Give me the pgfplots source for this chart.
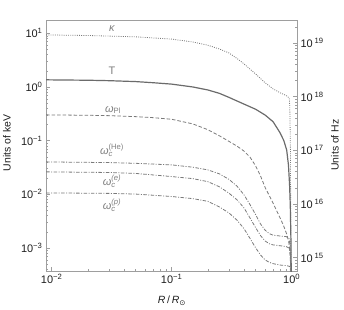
\documentclass[border=0pt]{standalone}
\usepackage{fontspec}
\setmainfont{Liberation Sans}
\newfontfamily\dejavu{DejaVu Sans}
\usepackage{amsmath}
\usepackage{pgfplots}
\pgfplotsset{compat=1.18}
\definecolor{framec}{gray}{0.62}
\definecolor{curvec}{gray}{0.48}
\definecolor{tc}{gray}{0.42}
\definecolor{labc}{gray}{0.5}
\definecolor{tickc}{gray}{0.12}

\pgfplotstableread{
x y
0.009 9.35
0.01 9.3
0.02 9.1
0.05 8.6
0.1 7.8
0.15 6.9
0.2 6.0
0.25 5.1
0.3 4.3
0.35 3.4
0.4 2.7
0.5 1.75
0.6 1.2
0.7 0.92
0.8 0.78
0.88 0.71
0.93 0.66
0.955 0.6
0.963 0.45
0.968 0.25
0.975 0.08
0.98 0.01
0.985 0.0005
0.99 0.00001
}\kappatab

\pgfplotstableread{
x y
0.009 1.36
0.01 1.355
0.02 1.335
0.03 1.31
0.05 1.26
0.07 1.2
0.1 1.13
0.15 1.0
0.2 0.88
0.25 0.76
0.3 0.64
0.4 0.48
0.5 0.385
0.6 0.3
0.7 0.225
0.8 0.14
0.86 0.1
0.908 0.067
0.94 0.035
0.96 0.015
0.973 0.0064
0.985 0.0015
0.992 0.0003
0.995 0.00001
}\Ttab

\pgfplotstableread{
x y
0.009 0.302
0.01 0.301
0.02 0.297
0.03 0.292
0.05 0.28
0.07 0.268
0.1 0.25
0.15 0.205
0.2 0.16
0.25 0.123
0.3 0.097
0.35 0.079
0.4 0.064
0.45 0.049
0.5 0.034
0.55 0.022
0.6 0.0135
0.7 0.0068
0.78 0.0041
0.85 0.0027
0.914 0.00175
0.95 0.0012
0.968 0.0008
0.98 0.0004
0.99 0.0001
0.995 0.00001
}\pltab

\pgfplotstableread{
x y
0.009 0.0402
0.01 0.0400
0.03 0.0390
0.05 0.0378
0.1 0.0353
0.15 0.0320
0.2 0.0285
0.25 0.0240
0.3 0.0190
0.35 0.0142
0.4 0.0098
0.45 0.0064
0.5 0.0042
0.55 0.0028
0.6 0.00215
0.65 0.00185
0.7 0.00173
0.8 0.00167
0.9 0.00163
0.95 0.0015
0.97 0.0011
0.98 0.0006
0.99 0.0001
0.995 0.00001
}\hetab

\pgfplotstableread{
x y
0.009 0.0262
0.01 0.0261
0.03 0.0255
0.05 0.0245
0.1 0.0214
0.15 0.0196
0.2 0.0172
0.25 0.0138
0.3 0.0105
0.35 0.0079
0.4 0.0056
0.45 0.0036
0.5 0.0024
0.55 0.0017
0.6 0.00135
0.65 0.0012
0.7 0.00114
0.8 0.0011
0.9 0.00106
0.95 0.0010
0.97 0.0008
0.98 0.0005
0.99 0.0001
0.995 0.00001
}\etab

\pgfplotstableread{
x y
0.009 0.0106
0.01 0.0106
0.03 0.0104
0.05 0.0101
0.1 0.0091
0.15 0.0083
0.2 0.0074
0.25 0.0058
0.3 0.0045
0.35 0.0033
0.4 0.0023
0.45 0.0015
0.5 0.00101
0.55 0.00074
0.6 0.0006
0.65 0.00054
0.7 0.00051
0.8 0.00048
0.9 0.00047
0.97 0.00045
0.985 0.0002
0.995 0.00001
}\ptab

\begin{document}
\begin{tikzpicture}[font=\fontsize{11}{13}\selectfont]
\path[use as bounding box] (0,0) rectangle (344bp,310bp);
\begin{axis}[
  at={(46bp,39bp)}, anchor=south west,
  scale only axis, width=251bp, height=251bp,
  xmode=log, ymode=log,
  xmin=0.00897, xmax=1.107,
  ymin=3.72e-4, ymax=17.7,
  axis line style={framec, line width=0.6pt},
  every tick/.style={framec, line width=0.5pt},
  major tick length=4.5bp, minor tick length=2.5bp,
  tick align=inside,
  xtick pos=left, ytick pos=left,
  xtick={0.01,0.1,1},
  xticklabels={10\textsuperscript{−2},10\textsuperscript{−1},10\textsuperscript{0}},
  minor xtick={0.02,0.03,0.04,0.05,0.06,0.07,0.08,0.09,0.2,0.3,0.4,0.5,0.6,0.7,0.8,0.9},
  ytick={0.001,0.01,0.1,1,10},
  yticklabels={10\textsuperscript{−3},10\textsuperscript{−2},10\textsuperscript{−1},10\textsuperscript{0},10\textsuperscript{1}},
  minor ytick={0.0004,0.0005,0.0006,0.0007,0.0008,0.0009,0.002,0.003,0.004,0.005,0.006,0.007,0.008,0.009,0.02,0.03,0.04,0.05,0.06,0.07,0.08,0.09,0.2,0.3,0.4,0.5,0.6,0.7,0.8,0.9,2,3,4,5,6,7,8,9},
  tick label style={tickc, font=\fontsize{11}{13}\selectfont},
]
\addplot[curvec, line width=0.8pt, dash pattern=on 0.9pt off 1.3pt] table {\kappatab};
\addplot[tc, line width=1.2pt] table {\Ttab};
\addplot[curvec, line width=0.8pt, dash pattern=on 3.5pt off 2pt] table {\pltab};
\addplot[curvec, line width=0.8pt, dash pattern=on 3.5pt off 1.5pt on 1pt off 1.5pt] table {\hetab};
\addplot[curvec, line width=0.8pt, dash pattern=on 3.5pt off 1.5pt on 1pt off 1.5pt] table {\etab};
\addplot[curvec, line width=0.8pt, dash pattern=on 3.5pt off 1.5pt on 1pt off 1.5pt] table {\ptab};
\end{axis}
\begin{axis}[
  at={(46bp,39bp)}, anchor=south west,
  scale only axis, width=251bp, height=251bp,
  xmode=log, ymode=log,
  xmin=0.00897, xmax=1.107,
  ymin=5.65e14, ymax=2.69e19,
  axis x line=none, axis y line*=right,
  axis line style={framec, line width=0.6pt},
  every tick/.style={framec, line width=0.5pt},
  major tick length=4.5bp, minor tick length=2.5bp,
  tick align=inside,
  ytick={1e15,1e16,1e17,1e18,1e19},
  yticklabels={10\,\textsuperscript{15},10\,\textsuperscript{16},10\,\textsuperscript{17},10\,\textsuperscript{18},10\,\textsuperscript{19}},
  minor ytick={6e14,7e14,8e14,9e14,2e15,3e15,4e15,5e15,6e15,7e15,8e15,9e15,2e16,3e16,4e16,5e16,6e16,7e16,8e16,9e16,2e17,3e17,4e17,5e17,6e17,7e17,8e17,9e17,2e18,3e18,4e18,5e18,6e18,7e18,8e18,9e18,2e19},
  tick label style={tickc, font=\fontsize{11}{13}\selectfont},
]
\addplot[draw=none] coordinates {(0.1,1e16)};
\end{axis}
% axis labels
\node[tickc, rotate=90, font=\fontsize{10.5}{12}\selectfont] at (7bp,167bp) {Units of keV};
\node[tickc, rotate=90, font=\fontsize{10.5}{12}\selectfont] at (335bp,165bp) {Units of Hz};
\node[tickc, font=\fontsize{10.5}{12}\selectfont] at (172bp,9bp) {\textit{R}\,/\,\textit{R}\textsubscript{\dejavu ⊙}};
% curve labels
\node[labc] at (112bp,281bp) {\textit{κ}};
\node[labc] at (112bp,239bp) {T};
\node[labc] at (113bp,200bp) {\textit{ω}\textsubscript{Pl}};
\node[labc] at (112bp,160bp) {$\textit{ω}_{\textit{c}}^{\text{(He)}}$};
\node[labc] at (112bp,129bp) {$\textit{ω}_{\textit{c}}^{\textit{(e)}}$};
\node[labc] at (112bp,105bp) {$\textit{ω}_{\textit{c}}^{\textit{(p)}}$};
\end{tikzpicture}
\end{document}
